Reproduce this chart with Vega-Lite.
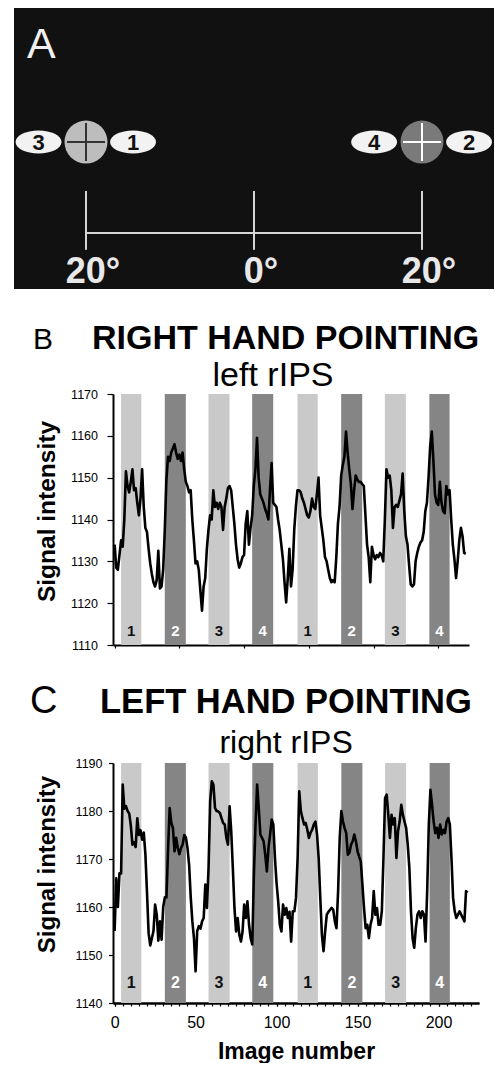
{
"$schema": "https://vega.github.io/schema/vega-lite/v6.json",
"background": "white",
"padding": {"left": 14, "top": 8, "right": 0, "bottom": 0},
"spacing": 31,
"config": {"view": {"stroke": null}, "font": "Liberation Sans", "axis": {"labelFont": "Liberation Sans", "titleFont": "Liberation Sans", "labelColor": "black", "titleColor": "black", "domainColor": "black", "tickColor": "black", "grid": false, "labelFlush": false}},
"datasets": {
"bars": [{"cond":"1","start":4,"end":16.5,"mid":10.25},{"cond":"2","start":31,"end":44,"mid":37.5},{"cond":"3","start":58,"end":71,"mid":64.5},{"cond":"4","start":85,"end":98,"mid":91.5},{"cond":"1","start":113,"end":125.5,"mid":119.25},{"cond":"2","start":140,"end":153,"mid":146.5},{"cond":"3","start":167,"end":180,"mid":173.5},{"cond":"4","start":194.5,"end":207,"mid":200.75}],
"sigB": [{"image":0,"signal":1134},{"image":1,"signal":1128.5},{"image":2,"signal":1128},{"image":3,"signal":1131.5},{"image":4,"signal":1135},{"image":5,"signal":1133.5},{"image":6,"signal":1140},{"image":7,"signal":1151.5},{"image":8,"signal":1148},{"image":9,"signal":1146.5},{"image":10,"signal":1149},{"image":11,"signal":1152},{"image":12,"signal":1147},{"image":13,"signal":1147.5},{"image":14,"signal":1144},{"image":15,"signal":1141},{"image":16,"signal":1145},{"image":17,"signal":1152},{"image":18,"signal":1143},{"image":19,"signal":1138},{"image":20,"signal":1137},{"image":21,"signal":1133},{"image":22,"signal":1129.5},{"image":23,"signal":1127},{"image":24,"signal":1125},{"image":25,"signal":1124},{"image":26,"signal":1125.5},{"image":27,"signal":1132.5},{"image":28,"signal":1123.5},{"image":29,"signal":1124},{"image":30,"signal":1128},{"image":31,"signal":1137.5},{"image":32,"signal":1149.5},{"image":33,"signal":1155},{"image":34,"signal":1154},{"image":35,"signal":1156},{"image":36,"signal":1157},{"image":37,"signal":1158},{"image":38,"signal":1156},{"image":39,"signal":1154.5},{"image":40,"signal":1155.5},{"image":41,"signal":1154},{"image":42,"signal":1156},{"image":43,"signal":1152},{"image":44,"signal":1149},{"image":45,"signal":1148},{"image":46,"signal":1146.5},{"image":47,"signal":1147},{"image":48,"signal":1140},{"image":49,"signal":1135},{"image":50,"signal":1129.5},{"image":51,"signal":1130},{"image":52,"signal":1128},{"image":53,"signal":1123},{"image":54,"signal":1118.2},{"image":55,"signal":1124},{"image":56,"signal":1126},{"image":57,"signal":1133},{"image":58,"signal":1137.5},{"image":59,"signal":1141},{"image":60,"signal":1140},{"image":61,"signal":1147},{"image":62,"signal":1143},{"image":63,"signal":1144},{"image":64,"signal":1142.5},{"image":65,"signal":1144},{"image":66,"signal":1143},{"image":67,"signal":1137.5},{"image":68,"signal":1143},{"image":69,"signal":1145},{"image":70,"signal":1147.5},{"image":71,"signal":1148},{"image":72,"signal":1147},{"image":73,"signal":1143},{"image":74,"signal":1139},{"image":75,"signal":1134},{"image":76,"signal":1130.5},{"image":77,"signal":1128.5},{"image":78,"signal":1129.5},{"image":79,"signal":1131},{"image":80,"signal":1131.5},{"image":81,"signal":1139},{"image":82,"signal":1142},{"image":83,"signal":1134},{"image":84,"signal":1138},{"image":85,"signal":1141},{"image":86,"signal":1148},{"image":87,"signal":1152},{"image":88,"signal":1159.5},{"image":89,"signal":1150},{"image":90,"signal":1146},{"image":91,"signal":1145},{"image":92,"signal":1144},{"image":93,"signal":1142.5},{"image":94,"signal":1141.5},{"image":95,"signal":1140},{"image":96,"signal":1147},{"image":97,"signal":1153.5},{"image":98,"signal":1144},{"image":99,"signal":1143.5},{"image":100,"signal":1143},{"image":101,"signal":1140},{"image":102,"signal":1137.5},{"image":103,"signal":1134},{"image":104,"signal":1130.5},{"image":105,"signal":1125},{"image":106,"signal":1120.2},{"image":107,"signal":1126},{"image":108,"signal":1133},{"image":109,"signal":1124},{"image":110,"signal":1128},{"image":111,"signal":1137.5},{"image":112,"signal":1143},{"image":113,"signal":1147},{"image":114,"signal":1147},{"image":115,"signal":1146.5},{"image":116,"signal":1145},{"image":117,"signal":1144},{"image":118,"signal":1142.5},{"image":119,"signal":1141},{"image":120,"signal":1140.5},{"image":121,"signal":1142},{"image":122,"signal":1145},{"image":123,"signal":1143},{"image":124,"signal":1142.5},{"image":125,"signal":1146},{"image":126,"signal":1150},{"image":127,"signal":1141},{"image":128,"signal":1138},{"image":129,"signal":1135},{"image":130,"signal":1131},{"image":131,"signal":1130},{"image":132,"signal":1128},{"image":133,"signal":1126},{"image":134,"signal":1125},{"image":135,"signal":1125.5},{"image":136,"signal":1125},{"image":137,"signal":1131},{"image":138,"signal":1139},{"image":139,"signal":1143},{"image":140,"signal":1150.5},{"image":141,"signal":1153},{"image":142,"signal":1155},{"image":143,"signal":1161},{"image":144,"signal":1156},{"image":145,"signal":1152},{"image":146,"signal":1148.5},{"image":147,"signal":1142.5},{"image":148,"signal":1147},{"image":149,"signal":1150.5},{"image":150,"signal":1149.5},{"image":151,"signal":1149},{"image":152,"signal":1149},{"image":153,"signal":1148.5},{"image":154,"signal":1148},{"image":155,"signal":1141},{"image":156,"signal":1134},{"image":157,"signal":1131},{"image":158,"signal":1125},{"image":159,"signal":1133.5},{"image":160,"signal":1131.5},{"image":161,"signal":1130.5},{"image":162,"signal":1131.5},{"image":163,"signal":1131},{"image":164,"signal":1132},{"image":165,"signal":1131.5},{"image":166,"signal":1130},{"image":167,"signal":1140},{"image":168,"signal":1152},{"image":169,"signal":1150},{"image":170,"signal":1150.5},{"image":171,"signal":1147},{"image":172,"signal":1138},{"image":173,"signal":1143},{"image":174,"signal":1143.5},{"image":175,"signal":1143},{"image":176,"signal":1144.5},{"image":177,"signal":1146},{"image":178,"signal":1151},{"image":179,"signal":1142},{"image":180,"signal":1136},{"image":181,"signal":1134},{"image":182,"signal":1129},{"image":183,"signal":1124.5},{"image":184,"signal":1124},{"image":185,"signal":1124.5},{"image":186,"signal":1130},{"image":187,"signal":1132},{"image":188,"signal":1133.5},{"image":189,"signal":1134.5},{"image":190,"signal":1135},{"image":191,"signal":1137},{"image":192,"signal":1142},{"image":193,"signal":1144},{"image":194,"signal":1150},{"image":195,"signal":1157.5},{"image":196,"signal":1161},{"image":197,"signal":1154},{"image":198,"signal":1146},{"image":199,"signal":1144},{"image":200,"signal":1143.5},{"image":201,"signal":1149},{"image":202,"signal":1144},{"image":203,"signal":1142},{"image":204,"signal":1141.5},{"image":205,"signal":1148},{"image":206,"signal":1146},{"image":207,"signal":1147},{"image":208,"signal":1140},{"image":209,"signal":1134},{"image":210,"signal":1130.5},{"image":211,"signal":1126},{"image":212,"signal":1130},{"image":213,"signal":1135},{"image":214,"signal":1138},{"image":215,"signal":1136},{"image":216,"signal":1132},{"image":217,"signal":1131.8}],
"sigC": [{"image":0,"signal":1155},{"image":1,"signal":1166},{"image":2,"signal":1160},{"image":3,"signal":1167},{"image":4,"signal":1167},{"image":5,"signal":1185.5},{"image":6,"signal":1180.5},{"image":7,"signal":1181},{"image":8,"signal":1180},{"image":9,"signal":1179.5},{"image":10,"signal":1177},{"image":11,"signal":1173},{"image":12,"signal":1173.5},{"image":13,"signal":1172.5},{"image":14,"signal":1178.5},{"image":15,"signal":1175},{"image":16,"signal":1176},{"image":17,"signal":1174},{"image":18,"signal":1175.5},{"image":19,"signal":1171},{"image":20,"signal":1163},{"image":21,"signal":1154.5},{"image":22,"signal":1152},{"image":23,"signal":1153.5},{"image":24,"signal":1155},{"image":25,"signal":1160.5},{"image":26,"signal":1158.5},{"image":27,"signal":1153},{"image":28,"signal":1157},{"image":29,"signal":1153.2},{"image":30,"signal":1160},{"image":31,"signal":1162},{"image":32,"signal":1162},{"image":33,"signal":1172},{"image":34,"signal":1180.6},{"image":35,"signal":1177.5},{"image":36,"signal":1176.5},{"image":37,"signal":1171.6},{"image":38,"signal":1174.4},{"image":39,"signal":1172.3},{"image":40,"signal":1171},{"image":41,"signal":1172.3},{"image":42,"signal":1173},{"image":43,"signal":1175},{"image":44,"signal":1174.5},{"image":45,"signal":1172.3},{"image":46,"signal":1168.8},{"image":47,"signal":1162},{"image":48,"signal":1157},{"image":49,"signal":1153.5},{"image":50,"signal":1146.6},{"image":51,"signal":1155},{"image":52,"signal":1156},{"image":53,"signal":1155.5},{"image":54,"signal":1157},{"image":55,"signal":1157.7},{"image":56,"signal":1164.7},{"image":57,"signal":1159.8},{"image":58,"signal":1168.1},{"image":59,"signal":1182},{"image":60,"signal":1186.2},{"image":61,"signal":1185.5},{"image":62,"signal":1180.6},{"image":63,"signal":1180},{"image":64,"signal":1179.9},{"image":65,"signal":1179.6},{"image":66,"signal":1178.5},{"image":67,"signal":1177.5},{"image":68,"signal":1177.2},{"image":69,"signal":1174.4},{"image":70,"signal":1173},{"image":71,"signal":1181},{"image":72,"signal":1175.8},{"image":73,"signal":1168.1},{"image":74,"signal":1159.8},{"image":75,"signal":1154.9},{"image":76,"signal":1157.7},{"image":77,"signal":1154.2},{"image":78,"signal":1152.8},{"image":79,"signal":1154.9},{"image":80,"signal":1160.5},{"image":81,"signal":1157.7},{"image":82,"signal":1161.2},{"image":83,"signal":1156.3},{"image":84,"signal":1153.5},{"image":85,"signal":1152.2},{"image":86,"signal":1166.7},{"image":87,"signal":1177.2},{"image":88,"signal":1185.5},{"image":89,"signal":1180.6},{"image":90,"signal":1175.1},{"image":91,"signal":1174.4},{"image":92,"signal":1173.7},{"image":93,"signal":1170.9},{"image":94,"signal":1167.4},{"image":95,"signal":1172.3},{"image":96,"signal":1175.1},{"image":97,"signal":1178.2},{"image":98,"signal":1177.2},{"image":99,"signal":1170.2},{"image":100,"signal":1165},{"image":101,"signal":1161.2},{"image":102,"signal":1156.3},{"image":103,"signal":1154.9},{"image":104,"signal":1160.5},{"image":105,"signal":1158.4},{"image":106,"signal":1159.8},{"image":107,"signal":1157.7},{"image":108,"signal":1159},{"image":109,"signal":1152.8},{"image":110,"signal":1159.1},{"image":111,"signal":1159.1},{"image":112,"signal":1161.9},{"image":113,"signal":1170.2},{"image":114,"signal":1184.1},{"image":115,"signal":1180},{"image":116,"signal":1178.5},{"image":117,"signal":1177.2},{"image":118,"signal":1177.5},{"image":119,"signal":1176.1},{"image":120,"signal":1174.4},{"image":121,"signal":1175.5},{"image":122,"signal":1176.1},{"image":123,"signal":1177.2},{"image":124,"signal":1177.8},{"image":125,"signal":1175.1},{"image":126,"signal":1170.2},{"image":127,"signal":1161.9},{"image":128,"signal":1154.2},{"image":129,"signal":1150.8},{"image":130,"signal":1154.9},{"image":131,"signal":1158.4},{"image":132,"signal":1159},{"image":133,"signal":1159.4},{"image":134,"signal":1159.8},{"image":135,"signal":1159.4},{"image":136,"signal":1157},{"image":137,"signal":1155.6},{"image":138,"signal":1163.3},{"image":139,"signal":1174.4},{"image":140,"signal":1180},{"image":141,"signal":1177.8},{"image":142,"signal":1176.5},{"image":143,"signal":1175.4},{"image":144,"signal":1170.9},{"image":145,"signal":1171.3},{"image":146,"signal":1173},{"image":147,"signal":1173.7},{"image":148,"signal":1175.1},{"image":149,"signal":1173.7},{"image":150,"signal":1171.6},{"image":151,"signal":1170.5},{"image":152,"signal":1169.5},{"image":153,"signal":1164.7},{"image":154,"signal":1159.8},{"image":155,"signal":1155.6},{"image":156,"signal":1156.3},{"image":157,"signal":1153.5},{"image":158,"signal":1156.3},{"image":159,"signal":1157.7},{"image":160,"signal":1163.3},{"image":161,"signal":1158.4},{"image":162,"signal":1159.8},{"image":163,"signal":1156.3},{"image":164,"signal":1156.3},{"image":165,"signal":1159.1},{"image":166,"signal":1170.2},{"image":167,"signal":1182.7},{"image":168,"signal":1183.4},{"image":169,"signal":1179.2},{"image":170,"signal":1174.4},{"image":171,"signal":1179.2},{"image":172,"signal":1177.2},{"image":173,"signal":1178.5},{"image":174,"signal":1170.2},{"image":175,"signal":1175.8},{"image":176,"signal":1177.8},{"image":177,"signal":1181.3},{"image":178,"signal":1179.2},{"image":179,"signal":1177.8},{"image":180,"signal":1176.5},{"image":181,"signal":1173},{"image":182,"signal":1168.1},{"image":183,"signal":1159.1},{"image":184,"signal":1153.5},{"image":185,"signal":1151.5},{"image":186,"signal":1155.6},{"image":187,"signal":1158.4},{"image":188,"signal":1159.1},{"image":189,"signal":1157.7},{"image":190,"signal":1159.1},{"image":191,"signal":1158.4},{"image":192,"signal":1152.8},{"image":193,"signal":1163.3},{"image":194,"signal":1177.2},{"image":195,"signal":1184.4},{"image":196,"signal":1181.3},{"image":197,"signal":1177.8},{"image":198,"signal":1175.4},{"image":199,"signal":1176.5},{"image":200,"signal":1174.4},{"image":201,"signal":1177.2},{"image":202,"signal":1175.1},{"image":203,"signal":1176.1},{"image":204,"signal":1175.4},{"image":205,"signal":1177.8},{"image":206,"signal":1178.5},{"image":207,"signal":1177.2},{"image":208,"signal":1170.2},{"image":209,"signal":1161.9},{"image":210,"signal":1159.1},{"image":211,"signal":1157.7},{"image":212,"signal":1158.4},{"image":213,"signal":1159.1},{"image":214,"signal":1158.4},{"image":215,"signal":1157.7},{"image":216,"signal":1157},{"image":217,"signal":1163.3},{"image":218,"signal":1163}]
},
"vconcat": [
{
"width": 381, "height": 281,
"layer": [
{"data": {"values": [{"x1": -28.571, "x2": 28.571, "y1": -6.667, "y2": 26.786}]},
 "mark": {"type": "rect", "color": "#111111"},
 "encoding": {"x": {"field": "x1", "type": "quantitative", "scale": {"domain": [-16.786, 28.571], "nice": false, "zero": false}, "axis": null}, "x2": {"field": "x2"},
  "y": {"field": "y1", "type": "quantitative", "scale": {"domain": [-6.667, 26.786], "nice": false, "zero": false}, "axis": null}, "y2": {"field": "y2"}}},
{"data": {"values": [{"x1": -20, "x2": 20, "y1": 0, "y2": 0}, {"x1": -20, "x2": -20, "y1": -2, "y2": 5}, {"x1": 0, "x2": 0, "y1": -2, "y2": 5}, {"x1": 20, "x2": 20, "y1": -2, "y2": 5}]},
 "mark": {"type": "rule", "color": "#d6d6d6", "strokeWidth": 2},
 "encoding": {"x": {"field": "x1", "type": "quantitative", "axis": null}, "x2": {"field": "x2"}, "y": {"field": "y1", "type": "quantitative", "axis": null}, "y2": {"field": "y2"}}},
{"data": {"values": [{"deg": -20, "elev": 10.83, "tone": "light"}, {"deg": 20, "elev": 10.83, "tone": "dark"}]},
 "mark": {"type": "point", "shape": "circle", "filled": true, "size": 1849, "opacity": 1, "strokeWidth": 0},
 "encoding": {"x": {"field": "deg", "type": "quantitative", "axis": null}, "y": {"field": "elev", "type": "quantitative", "axis": null},
  "fill": {"field": "tone", "type": "nominal", "scale": {"domain": ["light", "dark"], "range": ["#bdbdbd", "#7a7a7a"]}, "legend": null}}},
{"data": {"values": [{"deg": -20, "elev": 10.83, "tone": "light"}, {"deg": 20, "elev": 10.83, "tone": "dark"}]},
 "mark": {"type": "point", "shape": "M-1,0L1,0M0,-1L0,1", "filled": false, "size": 1444, "opacity": 1, "strokeWidth": 2},
 "encoding": {"x": {"field": "deg", "type": "quantitative", "axis": null}, "y": {"field": "elev", "type": "quantitative", "axis": null},
  "stroke": {"field": "tone", "type": "nominal", "scale": {"domain": ["light", "dark"], "range": ["#333333", "#ffffff"]}, "legend": null}}},
{"data": {"values": [{"deg": -25.65, "elev": 10.83, "num": "3"}, {"deg": -14.4, "elev": 10.83, "num": "1"}, {"deg": 14.3, "elev": 10.83, "num": "4"}, {"deg": 25.6, "elev": 10.83, "num": "2"}]},
 "mark": {"type": "point", "shape": "M-1,0C-1,-0.276,-0.552,-0.5,0,-0.5C0.552,-0.5,1,-0.276,1,0C1,0.276,0.552,0.5,0,0.5C-0.552,0.5,-1,0.276,-1,0Z", "filled": true, "size": 2116, "opacity": 1, "color": "#f2f2f2"},
 "encoding": {"x": {"field": "deg", "type": "quantitative", "axis": null}, "y": {"field": "elev", "type": "quantitative", "axis": null}}},
{"data": {"values": [{"deg": -25.65, "elev": 10.83, "num": "3"}, {"deg": -14.4, "elev": 10.83, "num": "1"}, {"deg": 14.3, "elev": 10.83, "num": "4"}, {"deg": 25.6, "elev": 10.83, "num": "2"}]},
 "mark": {"type": "text", "fontSize": 22, "fontWeight": "bold", "color": "#111111", "baseline": "middle", "align": "center", "dy": 1},
 "encoding": {"x": {"field": "deg", "type": "quantitative", "axis": null}, "y": {"field": "elev", "type": "quantitative", "axis": null}, "text": {"field": "num"}}},
{"data": {"values": [{"deg": -20, "lab": "20°"}, {"deg": 0, "lab": "0°"}, {"deg": 20, "lab": "20°"}]},
 "mark": {"type": "text", "fontSize": 36, "fontWeight": "bold", "color": "#e8e8e8", "baseline": "alphabetic", "align": "center", "dx": 7},
 "encoding": {"x": {"field": "deg", "type": "quantitative", "axis": null}, "y": {"datum": -5.95, "type": "quantitative", "axis": null}, "text": {"field": "lab"}}},
{"data": {"values": [{"label": "A"}]},
 "mark": {"type": "text", "fontSize": 43, "color": "#f0f0f0", "align": "left", "baseline": "alphabetic"},
 "encoding": {"x": {"datum": -27.02, "type": "quantitative", "axis": null}, "y": {"datum": 20.83, "type": "quantitative", "axis": null}, "text": {"field": "label"}}}
]
},
{
"width": 356, "height": 251,
"resolve": {"scale": {"color": "independent"}},
"layer": [
{"data": {"name": "bars"},
 "mark": {"type": "rect"},
 "encoding": {"x": {"field": "start", "type": "quantitative", "scale": {"domain": [-1, 219], "nice": false, "zero": false},
   "axis": {"title": null, "values": [0,5,10,15,20,25,30,35,40,45,50,55,60,65,70,75,80,85,90,95,100,105,110,115,120,125,130,135,140,145,150,155,160,165,170,175,180,185,190,195,200,205,210,215], "labels": false, "tickSize": 3, "tickWidth": 1.2, "domainWidth": 2}},
  "x2": {"field": "end"},
  "color": {"field": "cond", "type": "nominal", "scale": {"domain": ["1", "2", "3", "4"], "range": ["#c9c9c9", "#858585", "#c9c9c9", "#858585"]}, "legend": null}}},
{"data": {"name": "sigB"},
 "mark": {"type": "line", "color": "#000000", "strokeWidth": 2.6, "strokeJoin": "round"},
 "encoding": {"x": {"field": "image", "type": "quantitative"},
  "y": {"field": "signal", "type": "quantitative", "scale": {"domain": [1110, 1170], "nice": false, "zero": false},
   "axis": {"values": [1110, 1120, 1130, 1140, 1150, 1160, 1170], "format": "d", "title": "Signal intensity", "titleFontSize": 24.5, "titleFontWeight": "bold", "titlePadding": 11, "titleY": 117, "labelFontSize": 12.5, "labelPadding": 9.5, "tickSize": 6, "tickWidth": 1.2, "domainWidth": 2}}}},
{"data": {"name": "bars"},
 "mark": {"type": "text", "fontSize": 15, "fontWeight": "bold", "baseline": "middle", "align": "center"},
 "encoding": {"x": {"field": "mid", "type": "quantitative"}, "y": {"datum": 1113.3, "type": "quantitative"}, "text": {"field": "cond"},
  "color": {"field": "cond", "type": "nominal", "scale": {"domain": ["1", "2", "3", "4"], "range": ["#111111", "#ffffff", "#111111", "#ffffff"]}, "legend": null}}},
{"data": {"values": [{"label": "B"}]},
 "mark": {"type": "text", "fontSize": 30, "align": "left", "baseline": "alphabetic", "color": "#000000"},
 "encoding": {"x": {"datum": -50.4, "type": "quantitative"}, "y": {"datum": 1180.77, "type": "quantitative"}, "text": {"field": "label"}}},
{"data": {"values": [{"label": "RIGHT HAND POINTING"}]},
 "mark": {"type": "text", "fontSize": 34, "fontWeight": "bold", "align": "left", "baseline": "alphabetic", "color": "#000000"},
 "encoding": {"x": {"datum": -14, "type": "quantitative"}, "y": {"datum": 1180.77, "type": "quantitative"}, "text": {"field": "label"}}},
{"data": {"values": [{"label": "left rIPS"}]},
 "mark": {"type": "text", "fontSize": 34, "align": "center", "baseline": "alphabetic", "color": "#000000"},
 "encoding": {"x": {"datum": 97.9, "type": "quantitative"}, "y": {"datum": 1171.9, "type": "quantitative"}, "text": {"field": "label"}}}
]
},
{
"width": 366, "height": 240,
"resolve": {"scale": {"color": "independent"}, "axis": {"x": "independent"}},
"layer": [
{"data": {"name": "bars"},
 "mark": {"type": "rect"},
 "encoding": {"x": {"field": "start", "type": "quantitative", "scale": {"domain": [-1, 225], "nice": false, "zero": false},
   "axis": {"orient": "bottom", "title": null, "values": [0,5,10,15,20,25,30,35,40,45,50,55,60,65,70,75,80,85,90,95,100,105,110,115,120,125,130,135,140,145,150,155,160,165,170,175,180,185,190,195,200,205,210,215,220], "labels": false, "tickSize": 3, "tickWidth": 1.2, "domainWidth": 2}},
  "x2": {"field": "end"},
  "color": {"field": "cond", "type": "nominal", "scale": {"domain": ["1", "2", "3", "4"], "range": ["#c9c9c9", "#858585", "#c9c9c9", "#858585"]}, "legend": null}}},
{"data": {"name": "sigC"},
 "mark": {"type": "line", "color": "#000000", "strokeWidth": 2.6, "strokeJoin": "round"},
 "encoding": {"x": {"field": "image", "type": "quantitative",
   "axis": {"orient": "bottom", "title": "Image number", "titleFontSize": 23, "titleFontWeight": "bold", "titlePadding": 10, "values": [0, 50, 100, 150, 200], "labelFontSize": 16, "labelPadding": 8, "tickSize": 3, "tickWidth": 1.2, "domainWidth": 2}},
  "y": {"field": "signal", "type": "quantitative", "scale": {"domain": [1140, 1190], "nice": false, "zero": false},
   "axis": {"values": [1140, 1150, 1160, 1170, 1180, 1190], "format": "d", "title": "Signal intensity", "titleFontSize": 24, "titleFontWeight": "bold", "titlePadding": 16, "titleY": 101, "labelFontSize": 12.5, "labelPadding": 6.5, "tickSize": 4.5, "tickWidth": 1.2, "domainWidth": 2}}}},
{"data": {"name": "bars"},
 "mark": {"type": "text", "fontSize": 16, "fontWeight": "bold", "baseline": "middle", "align": "center"},
 "encoding": {"x": {"field": "mid", "type": "quantitative", "axis": null}, "y": {"datum": 1144.2, "type": "quantitative"}, "text": {"field": "cond"},
  "color": {"field": "cond", "type": "nominal", "scale": {"domain": ["1", "2", "3", "4"], "range": ["#111111", "#ffffff", "#111111", "#ffffff"]}, "legend": null}}},
{"data": {"values": [{"label": "C"}]},
 "mark": {"type": "text", "fontSize": 38, "align": "left", "baseline": "alphabetic", "color": "#000000"},
 "encoding": {"x": {"datum": -52.3, "type": "quantitative", "axis": null}, "y": {"datum": 1200.4, "type": "quantitative"}, "text": {"field": "label"}}},
{"data": {"values": [{"label": "LEFT HAND POINTING"}]},
 "mark": {"type": "text", "fontSize": 34.5, "fontWeight": "bold", "align": "left", "baseline": "alphabetic", "color": "#000000"},
 "encoding": {"x": {"datum": -9, "type": "quantitative", "axis": null}, "y": {"datum": 1200.4, "type": "quantitative"}, "text": {"field": "label"}}},
{"data": {"values": [{"label": "right rIPS"}]},
 "mark": {"type": "text", "fontSize": 32, "align": "center", "baseline": "alphabetic", "color": "#000000"},
 "encoding": {"x": {"datum": 105.9, "type": "quantitative", "axis": null}, "y": {"datum": 1192.1, "type": "quantitative"}, "text": {"field": "label"}}}
]
}
]
}
